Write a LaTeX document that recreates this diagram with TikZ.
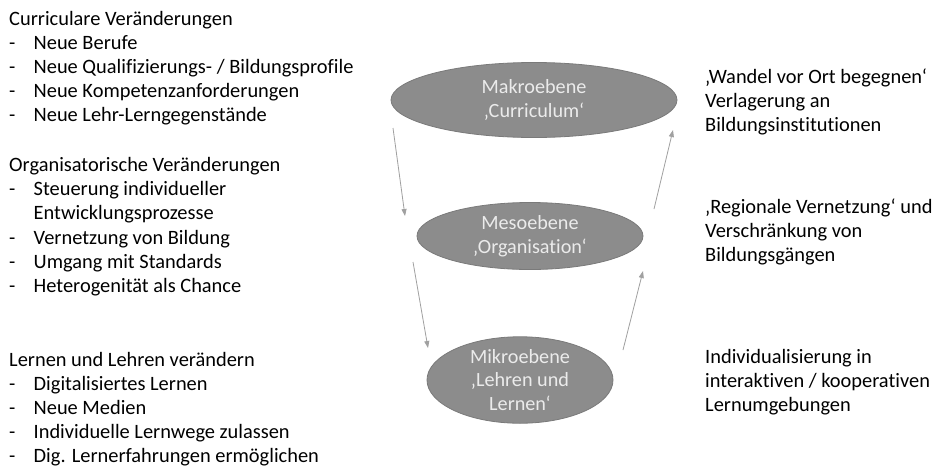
\documentclass[tikz,border=0pt]{standalone}
\usepackage{fontspec}
\setmainfont[Ligatures={NoCommon}]{Carlito}
\usetikzlibrary{shapes.geometric,arrows.meta}
\definecolor{ellfill}{HTML}{8C8C8C}
\definecolor{elldraw}{HTML}{7A7A7A}
\definecolor{elltext}{HTML}{EBEBEB}
\definecolor{arrgray}{HTML}{A0A0A0}
\begin{document}
\begin{tikzpicture}[x=1pt,y=-1pt,
  txt/.style={anchor=base west,inner sep=0pt,font=\fontsize{20.4}{24.1}\selectfont},
  lvl/.style={ellipse,fill=ellfill,draw=elldraw,line width=0.8pt,inner sep=0pt,
    align=center,text=elltext,font=\fontsize{20.2}{23.5}\selectfont},
  conn/.style={draw=arrgray,line width=0.8pt,-{Triangle[length=7pt,width=5pt]}}]
\useasboundingbox (0,0) rectangle (939,469);
\fill[white] (0,0) rectangle (939,469);

% left column
\node[txt] (curr) at (9,25) {\begin{tabular}[t]{@{}p{24.5pt}@{}l@{}}
\multicolumn{2}{@{}l@{}}{Curriculare Veränderungen}\\
-& Neue Berufe\\
-& Neue Qualifizierungs- / Bildungsprofile\\
-& Neue Kompetenzanforderungen\\
-& Neue Lehr-Lerngegenstände
\end{tabular}};
\node[txt] (orga) at (9,171.7) {\begin{tabular}[t]{@{}p{24.5pt}@{}l@{}}
\multicolumn{2}{@{}l@{}}{Organisatorische Veränderungen}\\
-& Steuerung individueller\\
 & Entwicklungsprozesse\\
-& Vernetzung von Bildung\\
-& Umgang mit Standards\\
-& Heterogenität als Chance
\end{tabular}};
\node[txt] (lern) at (9,366) {\begin{tabular}[t]{@{}p{24.5pt}@{}l@{}}
\multicolumn{2}{@{}l@{}}{Lernen und Lehren verändern}\\
-& Digitalisiertes Lernen\\
-& Neue Medien\\
-& Individuelle Lernwege zulassen\\
-& Dig. Lernerfahrungen ermöglichen
\end{tabular}};

% ellipses
\node[lvl,minimum width=286pt,minimum height=75pt] (makro) at (534,100) {Makroebene\\[1pt]‚Curriculum‘};
\node[lvl,minimum width=226pt,minimum height=67pt] (meso) at (530,236) {Mesoebene\\‚Organisation‘};
\node[lvl,minimum width=186pt,minimum height=83pt] (mikro) at (520,380) {Mikroebene\\‚Lehren und\\Lernen‘};

% right column
\node[txt] (r1) at (705,83.3) {\begin{tabular}[t]{@{}l@{}}‚Wandel vor Ort begegnen‘\\Verlagerung an\\Bildungsinstitutionen\end{tabular}};
\node[txt] (r2) at (705,213.3) {\begin{tabular}[t]{@{}l@{}}‚Regionale Vernetzung‘ und\\Verschränkung von\\Bildungsgängen\end{tabular}};
\node[txt] (r3) at (705,363.3) {\begin{tabular}[t]{@{}l@{}}Individualisierung in\\interaktiven / kooperativen\\Lernumgebungen\end{tabular}};

% connectors
\coordinate (d1s) at (393,128);
\coordinate (d1e) at (405,216);
\coordinate (d2s) at (413,262);
\coordinate (d2e) at (428,348);
\coordinate (u1s) at (654,209);
\coordinate (u1e) at (673,130);
\coordinate (u2s) at (623,350);
\coordinate (u2e) at (643,271);
\draw[conn] (d1s) -- (d1e);
\draw[conn] (d2s) -- (d2e);
\draw[conn] (u1s) -- (u1e);
\draw[conn] (u2s) -- (u2e);
\end{tikzpicture}
\end{document}
